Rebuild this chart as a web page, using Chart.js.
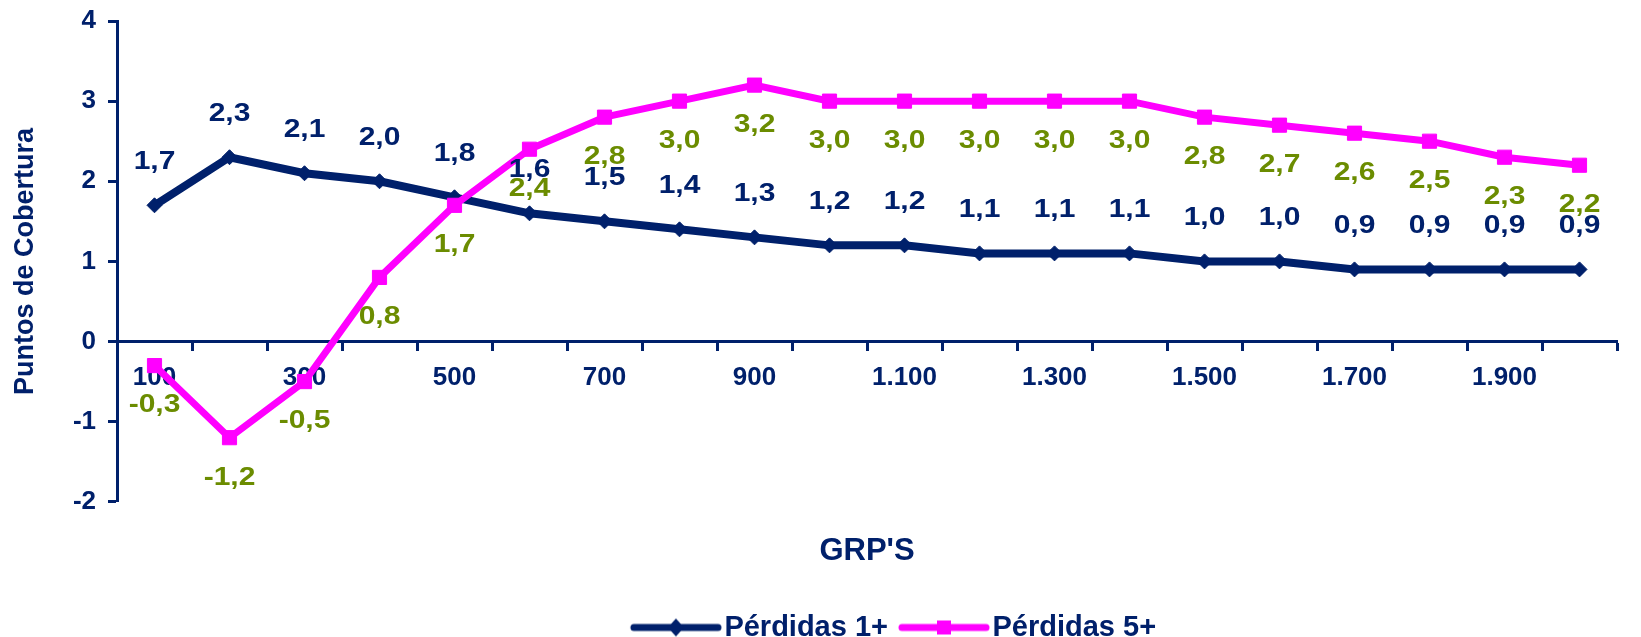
<!DOCTYPE html>
<html lang="es">
<head>
<meta charset="utf-8">
<title>Puntos de Cobertura por GRP'S</title>
<script src="https://cdn.jsdelivr.net/npm/chart.js@4.4.1/dist/chart.umd.min.js"></script>
<style>
  html, body { margin: 0; padding: 0; background: #ffffff; }
  #wrap { width: 1641px; height: 637px; }
</style>
</head>
<body>
<div id="wrap"><canvas id="chart" width="1641" height="637"></canvas></div>
<script>
// GRP levels (categories) and coverage points for each loss group
const grps = ['100', '200', '300', '400', '500', '600', '700', '800', '900', '1.000',
              '1.100', '1.200', '1.300', '1.400', '1.500', '1.600', '1.700', '1.800', '1.900', '2.000'];
const perdidas1 = [1.7, 2.3, 2.1, 2.0, 1.8, 1.6, 1.5, 1.4, 1.3, 1.2,
                   1.2, 1.1, 1.1, 1.1, 1.0, 1.0, 0.9, 0.9, 0.9, 0.9];
const perdidas5 = [-0.3, -1.2, -0.5, 0.8, 1.7, 2.4, 2.8, 3.0, 3.2, 3.0,
                   3.0, 3.0, 3.0, 3.0, 2.8, 2.7, 2.6, 2.5, 2.3, 2.2];
const seriesNames = ['Pérdidas 1+', 'Pérdidas 5+'];
const yRange = { min: -2, max: 4, step: 1 };

const NAVY = '#00206B';
const MAGENTA = '#FF00FF';
const OLIVE = '#6B8C00';
const FONT = "'Liberation Sans', Arial, sans-serif";

// value label colour and vertical offset per dataset
const labelStyles = [
  { color: NAVY, offset: -43 },
  { color: OLIVE, offset: 40 }
];

// legend swatch: a short line with the series marker in the middle.
// The image is centred on the legend box, so the stroke is drawn
// in its right-hand part to start at the box's left edge.
const SWATCH_BOX = 80;
function legendIcon(color, marker) {
  const c = document.createElement('canvas');
  c.width = 112; c.height = 20;
  const g = c.getContext('2d');
  const x0 = 20, x1 = 104, mid = (x0 + x1) / 2;
  g.strokeStyle = color;
  g.fillStyle = color;
  g.lineWidth = 7;
  g.lineCap = 'round';
  g.beginPath(); g.moveTo(x0, 10); g.lineTo(x1, 10); g.stroke();
  if (marker === 'diamond') {
    g.beginPath();
    g.moveTo(mid, 1); g.lineTo(mid + 8, 10); g.lineTo(mid, 19); g.lineTo(mid - 8, 10);
    g.closePath(); g.fill();
  } else {
    g.fillRect(mid - 7, 3, 14, 14);
  }
  return c;
}
const legendIcons = [legendIcon(NAVY, 'diamond'), legendIcon(MAGENTA, 'square')];

// value labels, written with a decimal comma and a slightly wide face
const valueLabels = {
  id: 'valueLabels',
  afterDatasetsDraw(chart) {
    const ctx = chart.ctx;
    ctx.save();
    ctx.font = 'bold 25px ' + FONT;
    ctx.textAlign = 'center';
    ctx.textBaseline = 'middle';
    chart.data.datasets.forEach((ds, i) => {
      const meta = chart.getDatasetMeta(i);
      const style = labelStyles[i];
      ctx.fillStyle = style.color;
      meta.data.forEach((pt, j) => {
        const txt = ds.data[j].toFixed(1).replace('.', ',');
        ctx.save();
        ctx.translate(pt.x, pt.y + style.offset);
        ctx.scale(1.2, 1);
        ctx.fillText(txt, 0, 0);
        ctx.restore();
      });
    });
    ctx.restore();
  }
};

// nudge the legend a little to the right of the plot centre
const legendShift = {
  id: 'legendShift',
  afterLayout(chart) {
    const lg = chart.legend;
    if (lg) { lg.left += 26; lg.right += 26; }
  }
};

const boldFont = size => ({ family: FONT, size: size, weight: 'bold' });

new Chart(document.getElementById('chart'), {
  type: 'line',
  data: {
    labels: grps,
    datasets: [
      {
        label: seriesNames[0],
        data: perdidas1,
        borderColor: NAVY,
        backgroundColor: NAVY,
        borderWidth: 8,
        tension: 0,
        pointStyle: 'rectRot',
        pointRadius: 7.5,
        pointBorderWidth: 1,
        pointBackgroundColor: NAVY,
        pointBorderColor: NAVY,
        order: 1
      },
      {
        label: seriesNames[1],
        data: perdidas5,
        borderColor: MAGENTA,
        backgroundColor: MAGENTA,
        borderWidth: 7,
        tension: 0,
        pointStyle: 'rect',
        pointRadius: 10,
        pointBorderWidth: 1,
        pointBackgroundColor: MAGENTA,
        pointBorderColor: MAGENTA,
        order: 0
      }
    ]
  },
  options: {
    responsive: false,
    animation: false,
    layout: { padding: { top: 21, right: 24, bottom: -15, left: 0 } },
    scales: {
      x: {
        type: 'category',
        position: { y: 0 },
        offset: true,
        grid: {
          display: true,
          offset: true,
          drawOnChartArea: false,
          drawTicks: true,
          tickLength: 8,
          tickWidth: 3,
          tickColor: NAVY
        },
        border: { display: true, color: NAVY, width: 3 },
        ticks: {
          autoSkip: false,
          maxRotation: 0,
          minRotation: 0,
          padding: 13,
          color: NAVY,
          font: boldFont(26),
          callback: (value, index) => (index % 2 === 0 ? grps[index] : '')
        }
      },
      y: {
        min: yRange.min,
        max: yRange.max,
        grid: {
          drawOnChartArea: false,
          drawTicks: true,
          tickLength: 9,
          tickWidth: 3,
          tickColor: NAVY
        },
        border: { display: true, color: NAVY, width: 3 },
        ticks: {
          stepSize: yRange.step,
          padding: 12,
          color: NAVY,
          font: boldFont(26),
          callback: v => String(v)
        },
        title: {
          display: true,
          text: 'Puntos de Cobertura',
          color: NAVY,
          font: boldFont(27),
          padding: { top: 9, bottom: 0 }
        },
        afterFit: scale => {
          scale.width = 117;
          scale.paddingTop = 0;
          scale.paddingBottom = 0;
        }
      }
    },
    plugins: {
      tooltip: { enabled: false },
      title: {
        display: true,
        position: 'bottom',
        fullSize: false,
        weight: 500,
        text: "GRP'S",
        color: NAVY,
        font: boldFont(31),
        padding: { top: 31, bottom: 33 }
      },
      legend: {
        position: 'bottom',
        fullSize: false,
        weight: 1000,
        labels: {
          usePointStyle: true,
          pointStyleWidth: SWATCH_BOX,
          padding: 10,
          color: NAVY,
          font: boldFont(29),
          generateLabels(chart) {
            const items = Chart.defaults.plugins.legend.labels.generateLabels(chart);
            items.sort((a, b) => a.datasetIndex - b.datasetIndex);
            items.forEach(it => {
              it.pointStyle = legendIcons[it.datasetIndex];
              it.fontColor = NAVY;
            });
            return items;
          }
        }
      }
    }
  },
  plugins: [valueLabels, legendShift]
});
</script>
</body>
</html>
